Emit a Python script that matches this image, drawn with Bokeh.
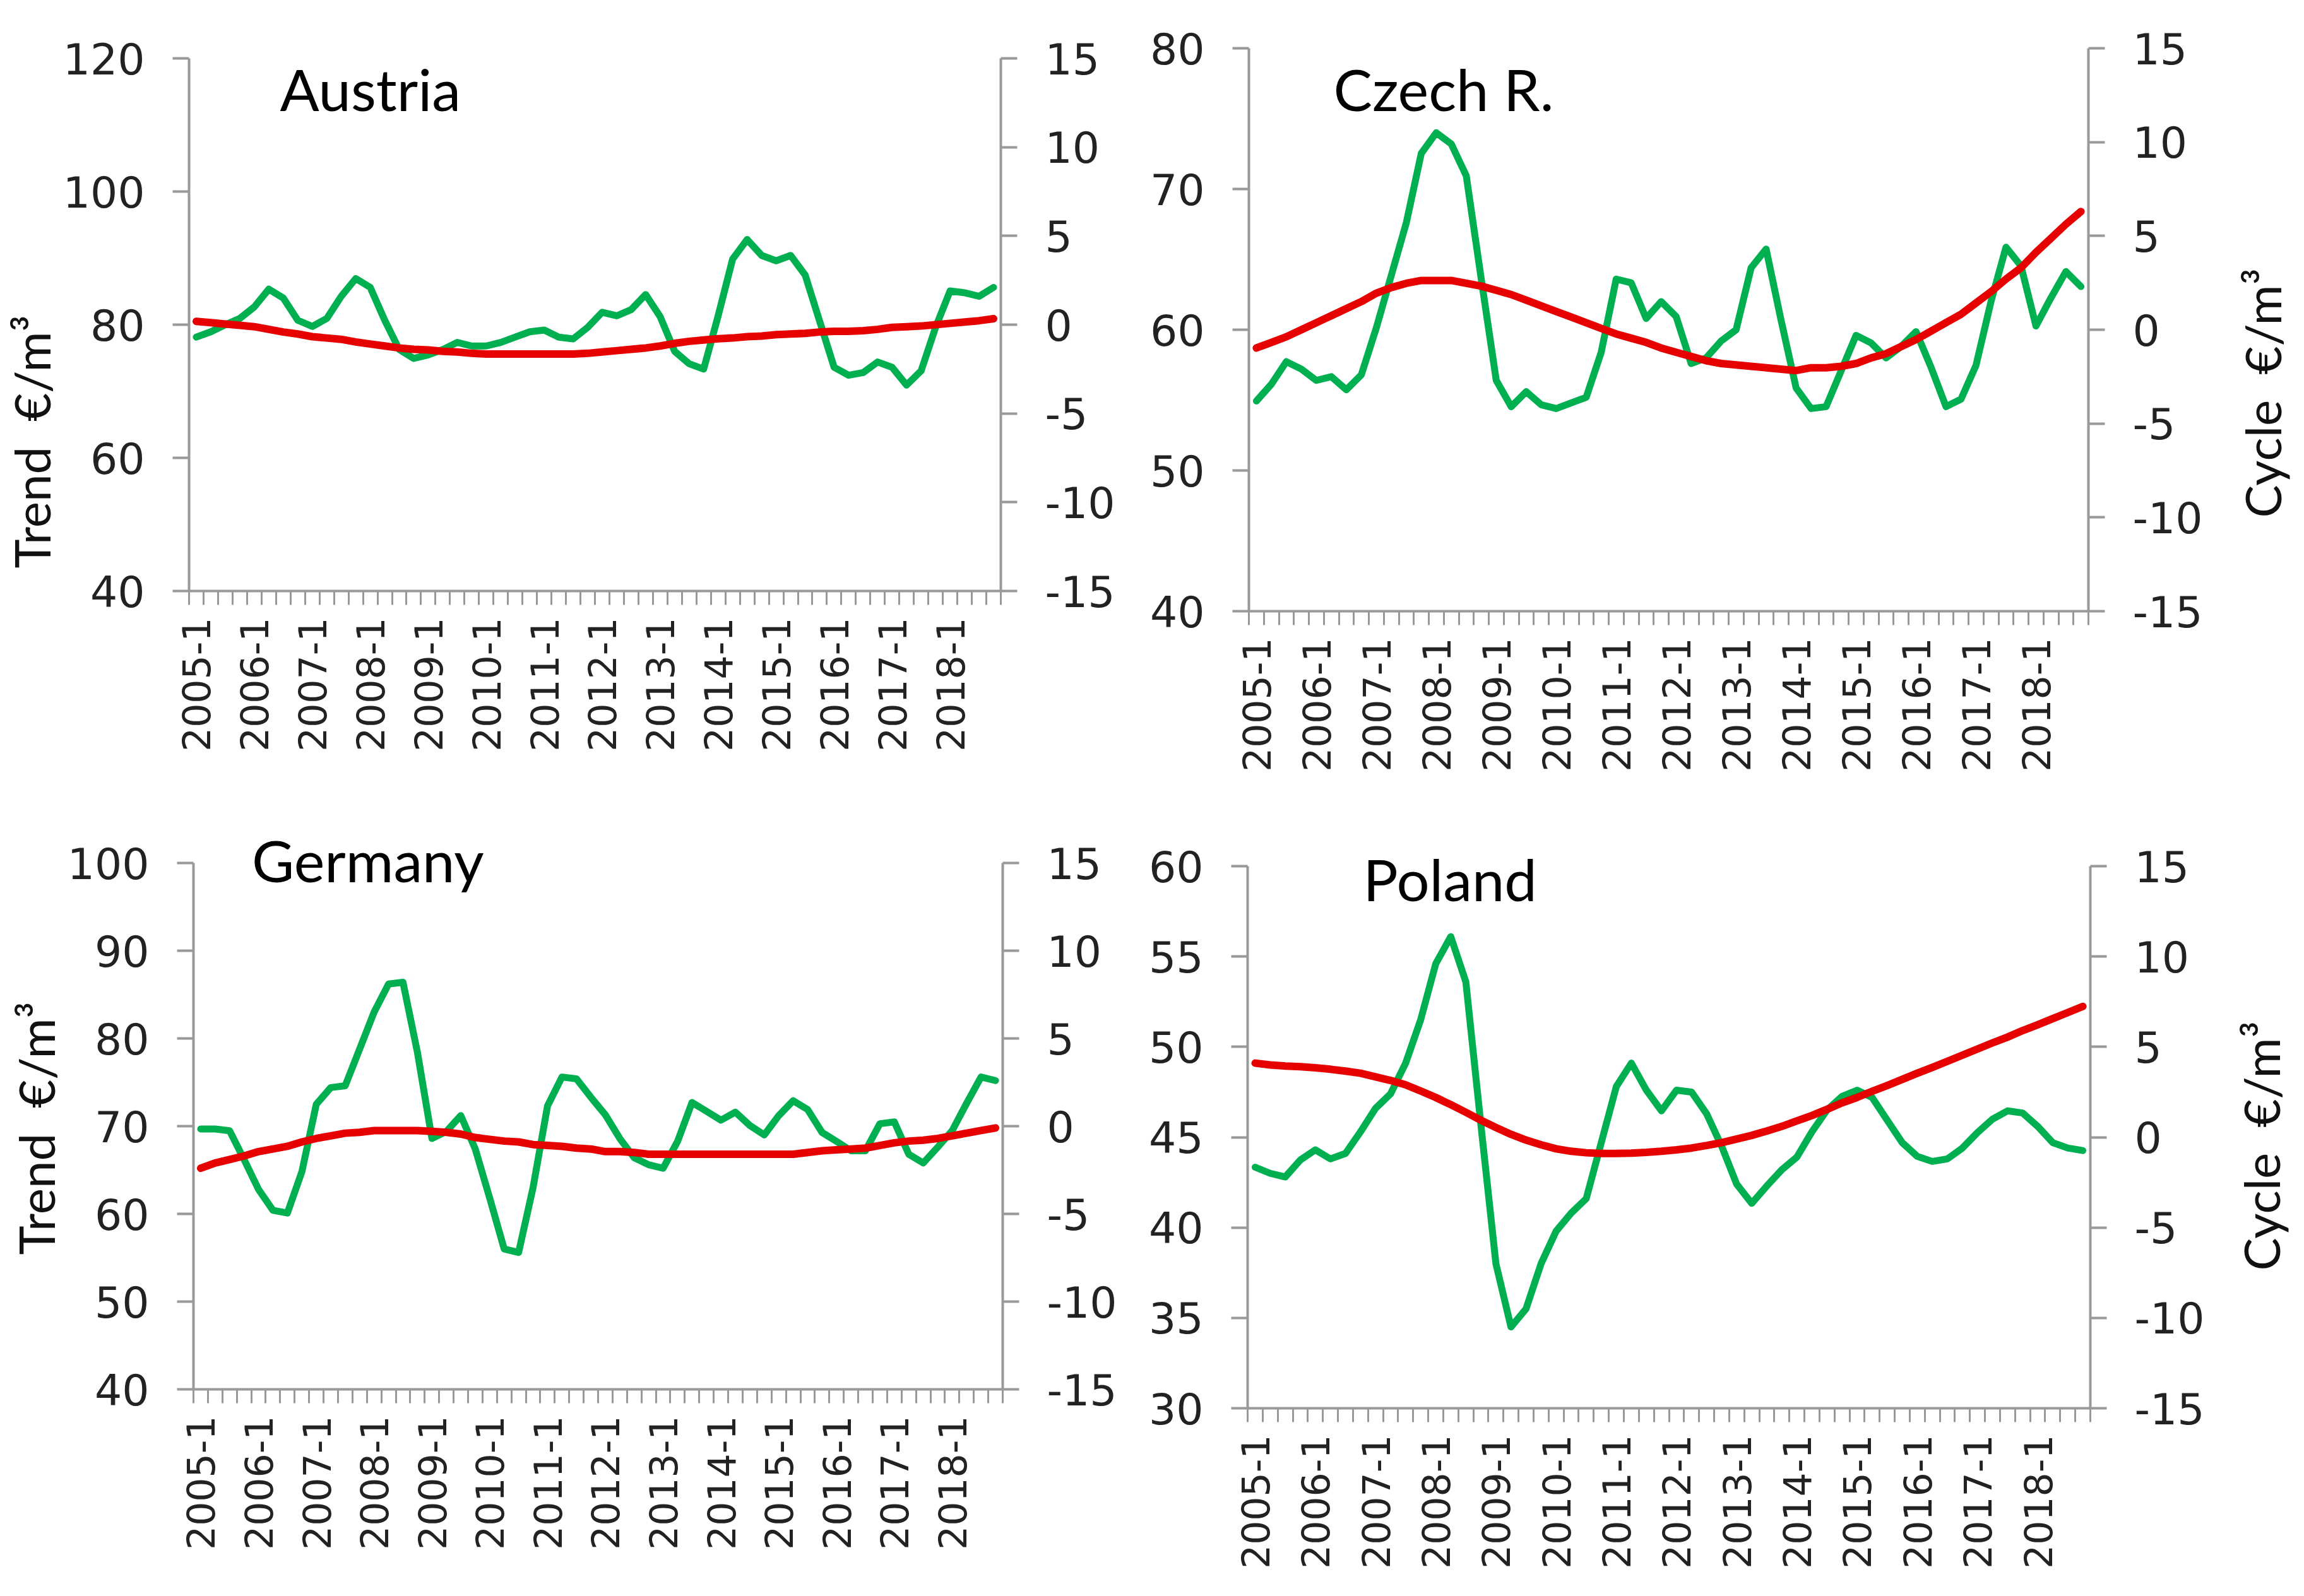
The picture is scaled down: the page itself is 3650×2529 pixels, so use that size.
import math
from bokeh.plotting import figure
from bokeh.models import Range1d, LinearAxis, FixedTicker, Label, Title
from bokeh.layouts import row, column
from bokeh.embed import file_html
from bokeh.resources import INLINE

# ---------------- data ----------------
quarters = [f"{y}-{q}" for y in range(2005, 2019) for q in (1, 2, 3, 4)]
year_tick_labels = ["2005-1", "2006-1", "2007-1", "2008-1", "2009-1", "2010-1", "2011-1",
                    "2012-1", "2013-1", "2014-1", "2015-1", "2016-1", "2017-1", "2018-1"]

austria_trend = [80.5, 80.3, 80.1, 79.9, 79.7, 79.3, 78.9, 78.6, 78.2, 78.0, 77.8, 77.4, 77.1, 76.8,
                 76.5, 76.3, 76.2, 76.0, 75.9, 75.7, 75.6, 75.6, 75.6, 75.6, 75.6, 75.6, 75.6, 75.7,
                 75.9, 76.1, 76.3, 76.5, 76.8, 77.2, 77.5, 77.7, 77.9, 78.0, 78.2, 78.3, 78.5, 78.6,
                 78.7, 78.9, 79.0, 79.0, 79.1, 79.3, 79.6, 79.7, 79.8, 80.0, 80.2, 80.4, 80.6, 80.9]
austria_cycle = [-0.7, -0.4, 0.0, 0.35, 1.0, 2.0, 1.5, 0.25, -0.1, 0.35, 1.6, 2.6, 2.1, 0.25,
                 -1.4, -1.9, -1.7, -1.4, -1.0, -1.2, -1.2, -1.0, -0.7, -0.4, -0.3, -0.7, -0.8, -0.15,
                 0.7, 0.5, 0.85, 1.7, 0.45, -1.5, -2.2, -2.5, 0.5, 3.7, 4.8, 3.9, 3.6, 3.9,
                 2.8, 0.2, -2.4, -2.85, -2.7, -2.1, -2.4, -3.4, -2.6, -0.15, 1.9, 1.8, 1.6, 2.1]

czech_trend = [58.7, 59.1, 59.5, 60.0, 60.5, 61.0, 61.5, 62.0, 62.6, 63.0, 63.3, 63.5, 63.5, 63.5,
               63.3, 63.1, 62.8, 62.5, 62.1, 61.7, 61.3, 60.9, 60.5, 60.1, 59.7, 59.4, 59.1, 58.7,
               58.4, 58.1, 57.8, 57.6, 57.5, 57.4, 57.3, 57.2, 57.1, 57.3, 57.3, 57.4, 57.6, 58.0,
               58.3, 58.8, 59.3, 59.9, 60.5, 61.1, 61.9, 62.7, 63.6, 64.4, 65.5, 66.5, 67.5, 68.4]
czech_cycle = [-3.8, -2.9, -1.7, -2.1, -2.7, -2.5, -3.2, -2.4, 0.1, 2.9, 5.7, 9.4, 10.5, 9.9,
               8.2, 2.7, -2.7, -4.1, -3.3, -4.0, -4.2, -3.9, -3.6, -1.2, 2.7, 2.5, 0.6, 1.5,
               0.7, -1.8, -1.5, -0.6, 0.0, 3.3, 4.3, 0.5, -3.1, -4.2, -4.1, -2.2, -0.3, -0.7,
               -1.5, -0.9, -0.1, -2.0, -4.1, -3.7, -1.9, 1.5, 4.4, 3.4, 0.2, 1.7, 3.1, 2.3]

germany_trend = [65.2, 65.8, 66.2, 66.6, 67.1, 67.4, 67.7, 68.2, 68.6, 68.9, 69.2, 69.3, 69.5, 69.5,
                 69.5, 69.5, 69.4, 69.3, 69.1, 68.7, 68.5, 68.3, 68.2, 67.9, 67.8, 67.7, 67.5, 67.4,
                 67.1, 67.1, 67.0, 66.8, 66.8, 66.8, 66.8, 66.8, 66.8, 66.8, 66.8, 66.8, 66.8, 66.8,
                 67.0, 67.2, 67.3, 67.4, 67.5, 67.8, 68.1, 68.3, 68.4, 68.6, 68.9, 69.2, 69.5, 69.8]
germany_cycle = [-0.16, -0.16, -0.26, -1.9, -3.6, -4.8, -4.95, -2.6, 1.25, 2.2, 2.3, 4.4, 6.5, 8.1,
                 8.2, 4.2, -0.7, -0.3, 0.6, -1.3, -4.1, -7.0, -7.2, -3.5, 1.15, 2.8, 2.7, 1.65,
                 0.65, -0.7, -1.8, -2.2, -2.4, -0.87, 1.35, 0.85, 0.34, 0.8, 0.04, -0.5, 0.6, 1.45,
                 0.95, -0.36, -0.87, -1.4, -1.4, 0.14, 0.24, -1.6, -2.1, -1.2, -0.26, 1.3, 2.8, 2.6]

poland_trend = [49.1, 49.0, 48.94, 48.9, 48.84, 48.76, 48.66, 48.54, 48.34, 48.14, 47.9, 47.56, 47.2, 46.8,
                46.38, 45.94, 45.54, 45.16, 44.84, 44.58, 44.36, 44.22, 44.14, 44.1, 44.1, 44.12, 44.16, 44.22,
                44.3, 44.4, 44.54, 44.7, 44.9, 45.1, 45.34, 45.6, 45.9, 46.2, 46.54, 46.9, 47.2, 47.54,
                47.86, 48.2, 48.54, 48.86, 49.2, 49.54, 49.88, 50.22, 50.54, 50.9, 51.22, 51.56, 51.9, 52.24]
poland_cycle = [-1.66, -2.0, -2.2, -1.26, -0.7, -1.2, -0.9, 0.3, 1.6, 2.4, 4.1, 6.5, 9.6, 11.1,
                8.6, 0.7, -7.0, -10.5, -9.5, -7.0, -5.2, -4.2, -3.4, -0.3, 2.8, 4.1, 2.6, 1.46,
                2.6, 2.5, 1.3, -0.5, -2.6, -3.66, -2.7, -1.8, -1.1, 0.3, 1.5, 2.26, 2.6, 2.2,
                0.94, -0.3, -1.06, -1.34, -1.2, -0.6, 0.26, 1.0, 1.46, 1.34, 0.6, -0.3, -0.6, -0.74]

cycle_ticks = [-15, -10, -5, 0, 5, 10, 15]

# ---------------- style ----------------
RED = "#e60000"
GREEN = "#00b050"
AXIS = "#999999"
TICKTXT = "#222222"
TICK_FONT = "DejaVu Sans"
TEXT_FONT = "Lato"

x_idx = list(range(len(quarters)))
label_pos = [quarters.index(l) for l in year_tick_labels]


def no_align(p):
    # each panel keeps its own frame position (the panels differ in size)
    if "frame_align" in p.properties():
        p.frame_align = False


def style_axis(ax):
    ax.axis_line_color = AXIS
    ax.axis_line_width = 4
    ax.major_tick_line_color = AXIS
    ax.major_tick_line_width = 4
    ax.major_tick_in = 0
    ax.major_tick_out = 26
    ax.minor_tick_line_color = None
    ax.major_label_text_font = TICK_FONT
    ax.major_label_text_font_size = "68px"
    ax.major_label_text_color = TICKTXT


def panel(name, trend, cycle, ylo, yhi, yticks, w, h, bl, br, bt, bb, head,
          title_xy, left_label=None, left_offset=0):
    frame_h = h - bt - bb
    extra = head * (yhi - ylo) / frame_h
    extra_c = head * 30.0 / frame_h
    p = figure(width=w, height=h, output_backend="svg", toolbar_location=None,
               x_range=Range1d(-0.5, len(quarters) - 0.5), y_range=Range1d(ylo, yhi + extra),
               min_border_left=bl, min_border_right=br, min_border_top=bt - head,
               min_border_bottom=bb)
    no_align(p)
    p.extra_y_ranges = {"cycle": Range1d(-15, 15 + extra_c)}
    p.outline_line_color = None
    p.grid.visible = False
    p.background_fill_color = "white"
    p.border_fill_color = "white"

    xa = p.xaxis[0]
    xa.ticker = FixedTicker(ticks=label_pos, minor_ticks=[i - 0.5 for i in range(len(quarters) + 1)])
    xa.major_label_overrides = {pos: lab for pos, lab in zip(label_pos, year_tick_labels)}
    xa.axis_line_color = AXIS
    xa.axis_line_width = 4
    xa.major_tick_line_color = None
    xa.major_tick_in = 0
    xa.major_tick_out = 22
    xa.minor_tick_line_color = AXIS
    xa.minor_tick_line_width = 3
    xa.minor_tick_in = 0
    xa.minor_tick_out = 22
    xa.major_label_orientation = math.pi / 2
    xa.major_label_standoff = 20
    xa.major_label_text_font = TICK_FONT
    xa.major_label_text_font_size = "60px"
    xa.major_label_text_color = TICKTXT

    ya = p.yaxis[0]
    ya.ticker = FixedTicker(ticks=yticks)
    ya.bounds = (ylo, yhi)
    style_axis(ya)
    ya.major_label_standoff = 44

    ra = LinearAxis(y_range_name="cycle", ticker=FixedTicker(ticks=cycle_ticks),
                    major_label_overrides={t: str(t) for t in cycle_ticks}, bounds=(-15, 15))
    style_axis(ra)
    ra.major_label_standoff = 44
    p.add_layout(ra, "right")

    if left_label is not None:
        p.add_layout(Title(text=left_label, align="left", offset=left_offset, standoff=0,
                           text_font=TEXT_FONT, text_font_size="78px", text_font_style="normal",
                           text_color="#111111"), "left")

    p.line(x_idx, cycle, y_range_name="cycle", line_color=GREEN, line_width=11,
           line_join="round", line_cap="round")
    p.line(x_idx, trend, line_color=RED, line_width=12, line_join="round", line_cap="round")

    p.add_layout(Label(x=title_xy[0], y=title_xy[1], text=name, text_font=TEXT_FONT,
                       text_font_size="92px", text_color="black",
                       text_align="left", text_baseline="alphabetic"))
    return p


def side_label(text, w, h, x, y):
    # narrow text-only strip holding a rotated axis title (reads bottom to top)
    p = figure(width=w, height=h, output_backend="svg", toolbar_location=None,
               x_range=Range1d(0, w), y_range=Range1d(0, h),
               min_border_left=0, min_border_right=0, min_border_top=0, min_border_bottom=0)
    no_align(p)
    p.axis.visible = False
    p.grid.visible = False
    p.outline_line_color = None
    p.background_fill_color = "white"
    p.border_fill_color = "white"
    p.add_layout(Label(x=x, y=y, text=text, angle=math.pi / 2, text_font=TEXT_FONT,
                       text_font_size="78px", text_color="#111111",
                       text_align="left", text_baseline="alphabetic"))
    return p


TREND_LABEL = "Trend\u00a0\u00a0€/m³"
CYCLE_LABEL = "Cycle\u00a0\u00a0€/m³"

H1 = 1240
H2 = 2513 - H1
pa = panel("Austria", austria_trend, austria_cycle, 40, 120, [40, 60, 80, 100, 120],
           1800, H1, 289, 215, 92, 304, 0, (5.77, 115.49), TREND_LABEL, 36)
pc = panel("Czech R.", czech_trend, czech_cycle, 40, 80, [40, 50, 60, 70, 80],
           1732, H1, 178, 224, 76, 272, 0, (5.14, 77.15))
lc = side_label(CYCLE_LABEL, 102, H1, 51, 420)
pg = panel("Germany", germany_trend, germany_cycle, 40, 100, [40, 50, 60, 70, 80, 90, 100],
           1800, H2, 306, 212, 127, 312, 44, (3.54, 100.38), TREND_LABEL, 213)
pp = panel("Poland", poland_trend, poland_cycle, 30, 60, [30, 35, 40, 45, 50, 55, 60],
           1732, H2, 176, 221, 132, 282, 30, (7.18, 59.31))
lp = side_label(CYCLE_LABEL, 102, H2, 49, 500)

layout = column(row(pa, pc, lc), row(pg, pp, lp))

open("out.html", "w").write(file_html(layout, INLINE))
